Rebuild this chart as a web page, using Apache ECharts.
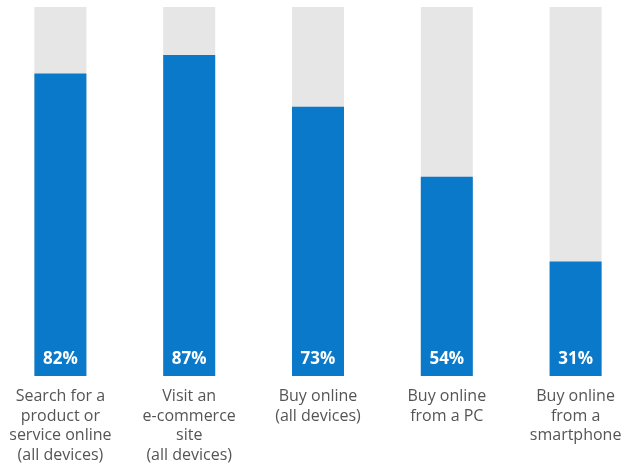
<!DOCTYPE html>
<html><head><meta charset="utf-8">
<script src="https://cdn.jsdelivr.net/npm/echarts@6/dist/echarts.min.js"></script>
<style>html,body{margin:0;padding:0;background:#fff}#c{width:623px;height:466px}</style>
</head><body><div id="c"></div>
<script>
const categories = [
  "Search for a\nproduct or\nservice online\n(all devices)",
  "Visit an\ne-commerce\nsite\n(all devices)",
  "Buy online\n(all devices)",
  "Buy online\nfrom a PC",
  "Buy online\nfrom a\nsmartphone"
];
const values = [82, 87, 73, 54, 31];

const chart = echarts.init(document.getElementById('c'));
chart.setOption({
  animation: false,
  grid: { left: -4, width: 644, top: 7, bottom: 90, outerBoundsMode: 'none', containLabel: false },
  xAxis: {
    type: 'category', data: categories,
    axisLine: { show: false }, axisTick: { show: false },
    axisLabel: { color: '#555', fontSize: 16, lineHeight: 19.5, margin: 11, fontFamily: '"Open Sans", "Noto Sans", sans-serif', interval: 0 }
  },
  yAxis: { type: 'value', min: 0, max: 100, show: false },
  series: [{
    type: 'bar', data: values, barWidth: 52,
    itemStyle: { color: '#0a79c9' },
    showBackground: true,
    backgroundStyle: { color: '#e6e6e6' },
    label: {
      show: true, position: 'insideBottom', distance: 8,
      formatter: '{c}%', color: '#fff', fontWeight: 'bold', fontSize: 17,
      fontFamily: '"Open Sans", "Noto Sans", sans-serif'
    }
  }]
});
</script></body></html>
